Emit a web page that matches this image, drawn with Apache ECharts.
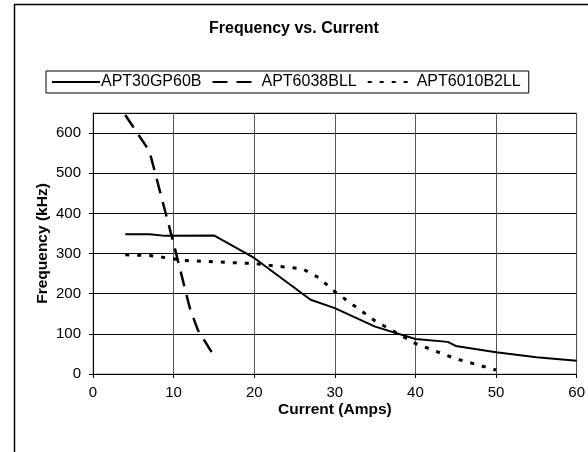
<!DOCTYPE html>
<html>
<head>
<meta charset="utf-8">
<script src="https://cdn.jsdelivr.net/npm/echarts@6/dist/echarts.min.js"></script>
<style>html,body{margin:0;padding:0;background:#fff}#c{width:588px;height:452px}</style>
</head>
<body>
<div id="c"></div>
<script>
var seriesNames = ['APT30GP60B', 'APT6038BLL', 'APT6010B2LL'];
var apt30gp60b = [[4,348],[7,348],[9,344],[15,345],[20,289],[27,185],[30,164],[35,118],[40,87],[44,80],[45,70],[50,54],[55,42],[60,33]];
var apt6038bll = [[4,645],[7,555],[10,325],[12,165],[13,110],[15,45]];
var apt6010b2ll = [[4,297],[7,295],[10,287],[11,283],[20,275],[23,268],[26,262],[28,240],[30,205],[35,132],[40,76],[45,38],[50,10]];
var xTicks = [0,10,20,30,40,50,60];
var yTicks = [0,100,200,300,400,500,600];

var chart = echarts.init(document.getElementById('c'));
var font = 'Liberation Sans, Arial, sans-serif';
chart.setOption({
  animation: false,
  backgroundColor: '#fff',
  title: {
    text: 'Frequency vs. Current', left: 'center', top: 16,
    textStyle: {fontFamily: font, fontSize: 16, fontWeight: 'bold', color: '#000'}
  },
  graphic: [{
    type: 'rect', left: 12, top: 2, shape: {width: 620, height: 500},
    style: {fill: 'none', stroke: '#000', lineWidth: 1.5}, z: 0
  }],
  legend: {
    left: 46, top: 71, padding: [3, 8, 3, 5],
    borderColor: '#000', borderWidth: 1,
    itemWidth: 48, itemHeight: 14, itemGap: 10,
    itemStyle: {color: 'rgba(0,0,0,0)', borderWidth: 0},
    textStyle: {fontFamily: font, fontSize: 16, color: '#000', padding: [0,0,0,-4]},
    data: seriesNames
  },
  grid: {left: 93, right: 8, top: 113, bottom: 78, show: true, borderColor: '#999', borderWidth: 1},
  xAxis: {
    type: 'value', min: 0, max: 60, interval: 10,
    name: 'Current (Amps)', nameLocation: 'middle', nameGap: 28, nameMoveOverlap: false,
    nameTextStyle: {fontFamily: font, fontSize: 15.5, fontWeight: 'bold', color: '#000'},
    axisLine: {lineStyle: {color: '#000', width: 1}},
    axisTick: {show: true, length: 4, lineStyle: {color: '#000'}},
    axisLabel: {fontFamily: font, fontSize: 15, color: '#000', margin: 11},
    splitLine: {show: true, lineStyle: {color: '#555', width: 1}}
  },
  yAxis: {
    type: 'value', min: 0, max: 650, interval: 100,
    name: 'Frequency (kHz)', nameLocation: 'middle', nameGap: 42, nameRotate: 90, nameMoveOverlap: false,
    nameTextStyle: {fontFamily: font, fontSize: 15.5, fontWeight: 'bold', color: '#000'},
    axisLine: {show: true, lineStyle: {color: '#000', width: 1}},
    axisTick: {show: true, length: 4, lineStyle: {color: '#000'}},
    axisLabel: {fontFamily: font, fontSize: 15, color: '#000', margin: 12, showMaxLabel: false},
    splitLine: {show: true, lineStyle: {color: '#000', width: 1}}
  },
  series: [
    {name: seriesNames[0], type: 'line', data: apt30gp60b, symbol: 'none', showSymbol: false,
     lineStyle: {color: '#000', width: 2, type: 'solid'}, itemStyle: {color: '#000'}},
    {name: seriesNames[1], type: 'line', data: apt6038bll, symbol: 'none', showSymbol: false,
     lineStyle: {color: '#000', width: 2.5, type: [15, 9]}, itemStyle: {color: '#000'}},
    {name: seriesNames[2], type: 'line', data: apt6010b2ll, symbol: 'none', showSymbol: false,
     lineStyle: {color: '#000', width: 3, type: [4, 8]}, itemStyle: {color: '#000'}}
  ]
});
</script>
</body>
</html>
